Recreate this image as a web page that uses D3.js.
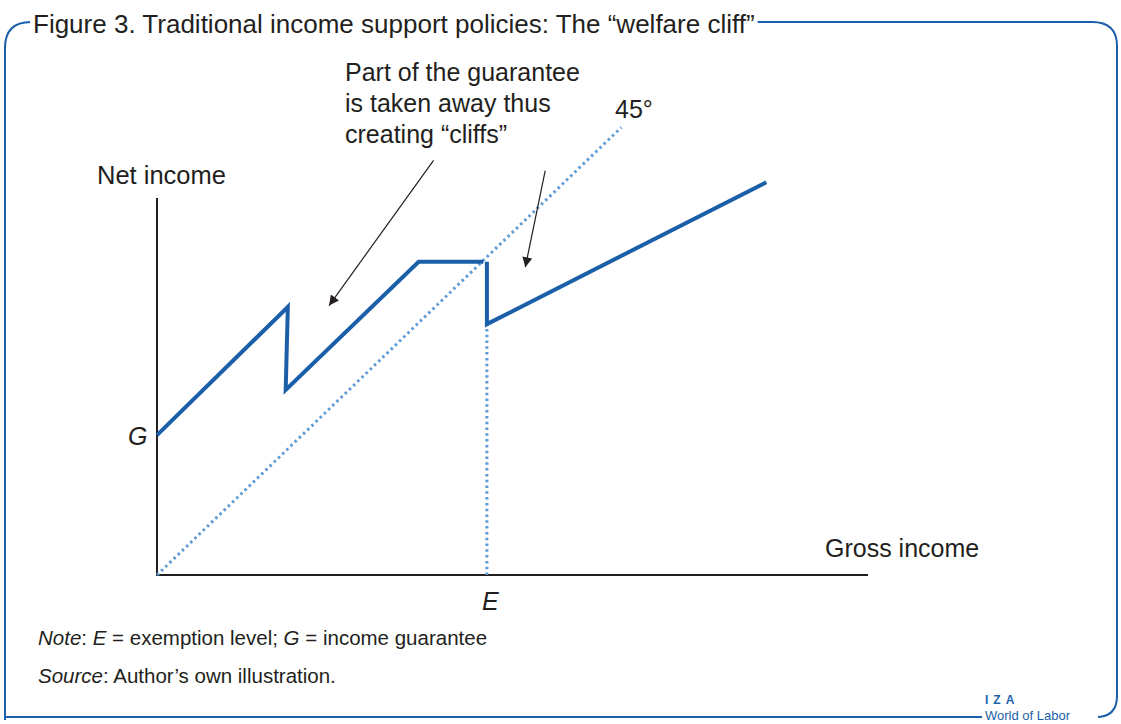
<!DOCTYPE html>
<html lang="en">
<head>
  <meta charset="UTF-8">
  <title>Welfare cliff</title>
  <style>
    body { margin: 0; background: #fff; }
    text { font-family: "Liberation Sans", Arial, sans-serif; fill: #231f20; }
  </style>
</head>
<body>
  <script src="https://d3js.org/d3.v7.min.js"></script>
  <script>
    // data in abstract income units (x = gross, y = net)
    let G = 20.4;   // income guarantee
    let E = 46.4;   // exemption level
    let netIncomeA = [[0, G], [18.4, 39.1], [18.1, 27.0], [36.8, 45.7], [45.9, 45.7]];
    let netIncomeB = [[E, 45.7], [E, 36.6], [85.7, 57.3]];
    let fortyFive = [[0, 0], [65.3, 65.3]];
    let exemptionLine = [[E, 0], [E, 36.6]];
    let annotationLines = ["Part of the guarantee", "is taken away thus", "creating \u201ccliffs\u201d"];

    let svgWidth = 1121;
    let svgHeight = 724;
    let blue = "#1b5fa9";
    let lightBlue = "#5d9ad6";

    let svg = d3.select("body")
      .append("svg")
      .attr("width", svgWidth)
      .attr("height", svgHeight);

    // frame
    svg.append("path")
      .attr("d", "M 5 720 L 5 48 Q 5 22 31 22 L 1092 22 Q 1117 22 1117 46 L 1117 696 Q 1117 717 1096 717")
      .attr("fill", "none")
      .attr("stroke", blue)
      .attr("stroke-width", 2);
    svg.append("line")
      .attr("x1", 5).attr("y1", 717).attr("x2", 982).attr("y2", 717)
      .attr("stroke", blue).attr("stroke-width", 2);

    // title with white backing over the frame
    let title = svg.append("text")
      .attr("x", 33)
      .attr("y", 33)
      .style("font-size", "26px")
      .text("Figure 3. Traditional income support policies: The \u201cwelfare cliff\u201d");
    let tb = title.node().getBBox();
    svg.insert("rect", "text")
      .attr("x", tb.x - 3).attr("y", tb.y)
      .attr("width", tb.width + 6).attr("height", tb.height)
      .attr("fill", "#fff");

    // logo
    svg.append("rect")
      .attr("x", 982).attr("y", 694).attr("width", 116).attr("height", 30).attr("fill", "#fff");
    svg.append("text")
      .attr("x", 985).attr("y", 704)
      .style("font-size", "12px").style("font-weight", "bold")
      .style("fill", blue).style("letter-spacing", "5px")
      .text("IZA");
    svg.append("text")
      .attr("x", 985).attr("y", 720)
      .style("font-size", "13px").style("fill", blue)
      .text("World of Labor");

    let x = d3.scaleLinear().domain([0, 100]).range([157, 868]);
    let y = d3.scaleLinear().domain([0, 55]).range([575, 198]);

    let line = d3.line().x(d => x(d[0])).y(d => y(d[1]));

    // axes
    svg.append("path")
      .attr("d", line([[0, 55], [0, 0], [100, 0]]))
      .attr("fill", "none")
      .attr("stroke", "#231f20")
      .attr("stroke-width", 2);

    // dotted guides
    [fortyFive, exemptionLine].forEach(function(d) {
      svg.append("path")
        .attr("d", line(d))
        .attr("fill", "none")
        .attr("stroke", lightBlue)
        .attr("stroke-width", 3)
        .attr("stroke-dasharray", "2.5,3.3");
    });

    // net income schedule
    [netIncomeA, netIncomeB].forEach(function(d) {
      svg.append("path")
        .attr("d", line(d))
        .attr("fill", "none")
        .attr("stroke", blue)
        .attr("stroke-width", 4)
        .attr("stroke-linejoin", "miter");
    });

    // arrows
    svg.append("defs").append("marker")
      .attr("id", "head")
      .attr("viewBox", "0 0 10 10")
      .attr("refX", 10).attr("refY", 5)
      .attr("markerWidth", 12).attr("markerHeight", 10)
      .attr("markerUnits", "userSpaceOnUse")
      .attr("orient", "auto")
      .append("path")
      .attr("d", "M 0 0 L 10 5 L 0 10 z")
      .attr("fill", "#231f20");

    let arrows = [[[38.9, 60.5], [24.2, 39.3]], [[54.6, 59.0], [51.8, 44.9]]];
    arrows.forEach(function(a) {
      svg.append("path")
        .attr("d", line(a))
        .attr("stroke", "#231f20")
        .attr("stroke-width", 1.2)
        .attr("marker-end", "url(#head)");
    });

    // annotation text
    svg.append("text")
      .attr("x", 345).attr("y", 81)
      .style("font-size", "25px")
      .selectAll("tspan")
      .data(annotationLines)
      .join("tspan")
      .attr("x", 345)
      .attr("dy", (d, i) => i === 0 ? 0 : 31)
      .text(d => d);

    svg.append("text").attr("x", 615).attr("y", 118).style("font-size", "25px").text("45\u00b0");
    svg.append("text").attr("x", 97).attr("y", 184).style("font-size", "25.5px").text("Net income");
    svg.append("text").attr("x", 825).attr("y", 557).style("font-size", "25px").text("Gross income");
    svg.append("text").attr("x", 128).attr("y", y(G) + 10).style("font-size", "25px").style("font-style", "italic").text("G");
    svg.append("text").attr("x", x(E) - 5).attr("y", 610).style("font-size", "25px").style("font-style", "italic").text("E");

    // notes
    let note = svg.append("text").attr("x", 38).attr("y", 645).style("font-size", "20.5px");
    note.append("tspan").style("font-style", "italic").text("Note");
    note.append("tspan").text(": ");
    note.append("tspan").style("font-style", "italic").text("E");
    note.append("tspan").text(" = exemption level; ");
    note.append("tspan").style("font-style", "italic").text("G");
    note.append("tspan").text(" = income guarantee");

    let source = svg.append("text").attr("x", 38).attr("y", 683).style("font-size", "20.5px");
    source.append("tspan").style("font-style", "italic").text("Source");
    source.append("tspan").text(": Author\u2019s own illustration.");
  </script>
</body>
</html>
